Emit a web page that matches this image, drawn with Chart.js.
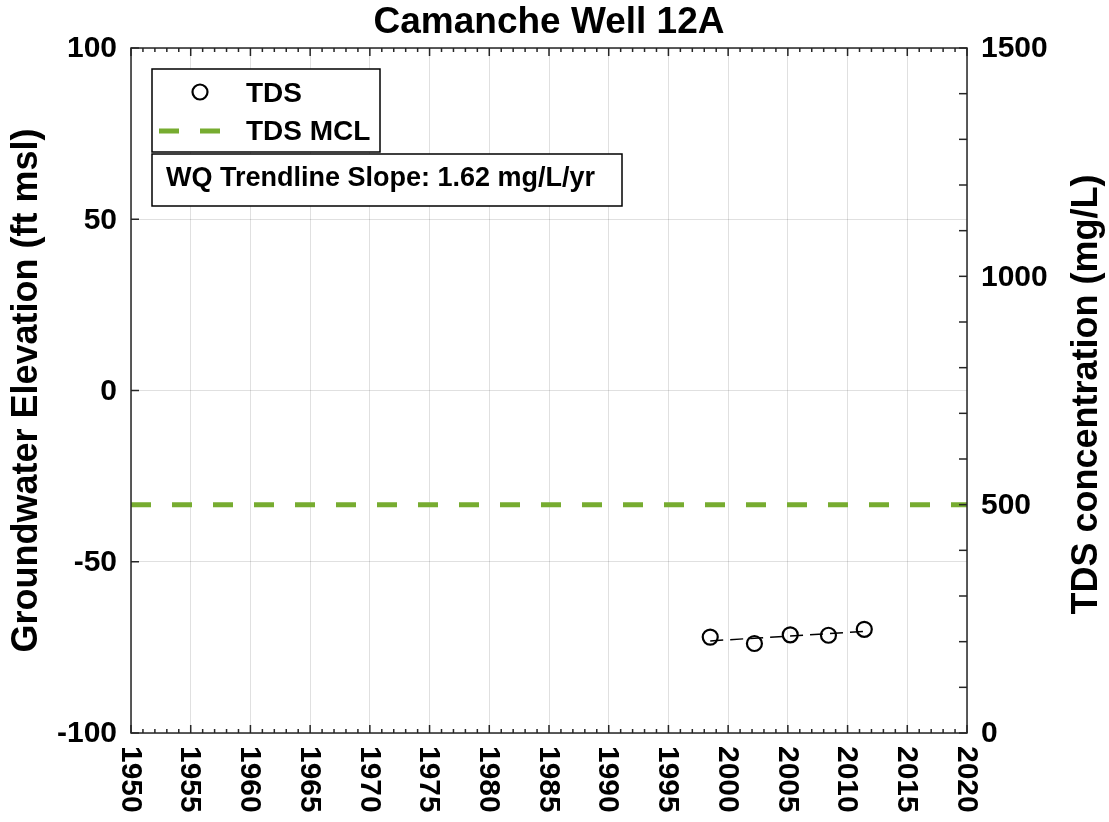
<!DOCTYPE html>
<html>
<head>
<meta charset="utf-8">
<title>Camanche Well 12A</title>
<script src="https://cdn.jsdelivr.net/npm/chart.js@4.4.1/dist/chart.umd.min.js"></script>
<style>
  html, body { margin: 0; padding: 0; background: #fff; }
  #wrap { width: 1109px; height: 822px; }
</style>
</head>
<body>
<div id="wrap"><canvas id="chart" width="1109" height="822"></canvas></div>
<script>
const chartTitle = 'Camanche Well 12A'
const leftAxisTitle = 'Groundwater Elevation (ft msl)'
const rightAxisTitle = 'TDS concentration (mg/L)'

// TDS samples (mg/L)
const sampleYears = [1998.5, 2002.2, 2005.2, 2008.4, 2011.4]
const tdsValues = [210, 196, 215, 214, 227]

const tdsMcl = 500
const trendSlope = 1.62 // mg/L per year
const slopeLabel = `WQ Trendline Slope: ${trendSlope.toFixed(2)} mg/L/yr`

const yearTicks = [1950, 1955, 1960, 1965, 1970, 1975, 1980, 1985, 1990, 1995, 2000, 2005, 2010, 2015, 2020]
const elevationTicks = [-100, -50, 0, 50, 100]
const tdsTicks = [0, 500, 1000, 1500]

const AXIS_COLOR = '#262626'
const GRID_COLOR = 'rgba(0, 0, 0, 0.12)'
const MCL_COLOR = '#77ac30'
const FONT = '"Liberation Sans", Arial, Helvetica, sans-serif'

const font = (size) => `bold ${size}px ${FONT}`

// trendline passes through the sample mean with the reported slope
const meanYear = sampleYears.reduce((a, b) => a + b, 0) / sampleYears.length
const meanTds = tdsValues.reduce((a, b) => a + b, 0) / tdsValues.length
const trendYears = [sampleYears[0], sampleYears[sampleYears.length - 1]]
const trendPoints = trendYears.map((year) => ({ x: year, y: meanTds + trendSlope * (year - meanYear) }))

const mclPoints = [yearTicks[0], yearTicks[yearTicks.length - 1]].map((year) => ({ x: year, y: tdsMcl }))

const frame = {
  id: 'matlabFrame',
  afterDatasetsDraw(chart) {
    const { ctx, chartArea } = chart
    const { left, right, top, bottom } = chartArea
    const xs = chart.scales.x
    const ys = chart.scales.y
    const y2 = chart.scales.y2

    ctx.save()
    ctx.strokeStyle = AXIS_COLOR
    ctx.lineWidth = 1.5

    // year ticks on bottom and top, minor every year
    for (let year = xs.min; year <= xs.max; year += 1) {
      const px = xs.getPixelForValue(year)
      const len = year % 5 === 0 ? 8 : 4
      ctx.beginPath()
      ctx.moveTo(px, bottom)
      ctx.lineTo(px, bottom - len)
      ctx.moveTo(px, top)
      ctx.lineTo(px, top + len)
      ctx.stroke()
    }

    elevationTicks.forEach((value) => {
      const py = ys.getPixelForValue(value)
      ctx.beginPath()
      ctx.moveTo(left, py)
      ctx.lineTo(left + 8, py)
      ctx.stroke()
    })

    for (let value = y2.min; value <= y2.max; value += 100) {
      const py = y2.getPixelForValue(value)
      ctx.beginPath()
      ctx.moveTo(right, py)
      ctx.lineTo(right - 8, py)
      ctx.stroke()
    }

    ctx.strokeRect(left, top, right - left, bottom - top)
    ctx.restore()
  },
  afterDraw(chart) {
    const { ctx, chartArea } = chart
    const { left, right, top, bottom } = chartArea
    const xs = chart.scales.x
    const ys = chart.scales.y
    const y2 = chart.scales.y2

    ctx.save()
    ctx.fillStyle = '#000'

    // title
    ctx.font = font(37)
    ctx.textAlign = 'center'
    ctx.textBaseline = 'alphabetic'
    ctx.fillText(chartTitle, (left + right) / 2, 33)

    // tick labels
    ctx.font = font(30)
    ctx.textBaseline = 'middle'
    ctx.textAlign = 'right'
    elevationTicks.forEach((value) => {
      ctx.fillText(String(value), left - 14, ys.getPixelForValue(value) + 1)
    })
    ctx.textAlign = 'left'
    tdsTicks.forEach((value) => {
      ctx.fillText(String(value), right + 14, y2.getPixelForValue(value) + 1)
    })
    yearTicks.forEach((year) => {
      ctx.save()
      ctx.translate(xs.getPixelForValue(year) - 1, bottom + 13)
      ctx.rotate(Math.PI / 2)
      ctx.textAlign = 'left'
      ctx.fillText(String(year), 0, 0)
      ctx.restore()
    })

    // axis titles, both reading bottom to top
    ctx.font = font(36)
    ctx.textAlign = 'center'
    ctx.textBaseline = 'alphabetic'
    ctx.save()
    ctx.translate(37, (top + bottom) / 2)
    ctx.rotate(-Math.PI / 2)
    ctx.fillText(leftAxisTitle, 0, 0)
    ctx.restore()
    ctx.save()
    ctx.translate(1097, (top + bottom) / 2 + 4)
    ctx.rotate(-Math.PI / 2)
    ctx.fillText(rightAxisTitle, 0, 0)
    ctx.restore()

    // legend box
    const tds = chart.data.datasets[0]
    const mcl = chart.data.datasets[2]
    ctx.lineWidth = 1.5
    ctx.strokeStyle = '#000'
    ctx.fillStyle = '#fff'
    ctx.fillRect(152, 69, 228, 83)
    ctx.strokeRect(152, 69, 228, 83)

    ctx.beginPath()
    ctx.arc(200, 92, tds.pointRadius, 0, Math.PI * 2)
    ctx.lineWidth = tds.pointBorderWidth
    ctx.strokeStyle = tds.borderColor
    ctx.stroke()

    ctx.beginPath()
    ctx.setLineDash(mcl.borderDash)
    ctx.lineWidth = mcl.borderWidth
    ctx.strokeStyle = mcl.borderColor
    ctx.moveTo(159, 131)
    ctx.lineTo(223, 131)
    ctx.stroke()
    ctx.setLineDash([])

    ctx.fillStyle = '#000'
    ctx.font = font(28)
    ctx.textAlign = 'left'
    ctx.textBaseline = 'middle'
    ctx.fillText(tds.label, 246, 94)
    ctx.fillText(mcl.label, 246, 132)

    // slope box
    ctx.lineWidth = 1.5
    ctx.strokeStyle = '#000'
    ctx.fillStyle = '#fff'
    ctx.fillRect(152, 154, 470, 52)
    ctx.strokeRect(152, 154, 470, 52)
    ctx.fillStyle = '#000'
    ctx.font = font(27)
    ctx.fillText(slopeLabel, 166, 179)

    ctx.restore()
  },
}

const chart = new Chart(document.getElementById('chart'), {
  type: 'line',
  data: {
    datasets: [
      {
        label: 'TDS',
        data: sampleYears.map((year, i) => ({ x: year, y: tdsValues[i] })),
        yAxisID: 'y2',
        showLine: false,
        pointStyle: 'circle',
        pointRadius: 7.5,
        pointBorderWidth: 2.2,
        borderColor: '#000',
        backgroundColor: 'rgba(0, 0, 0, 0)',
      },
      {
        label: 'Trendline',
        data: trendPoints,
        yAxisID: 'y2',
        borderColor: '#000',
        borderWidth: 1.5,
        borderDash: [13, 7],
        pointRadius: 0,
        fill: false,
      },
      {
        label: 'TDS MCL',
        data: mclPoints,
        yAxisID: 'y2',
        borderColor: MCL_COLOR,
        borderWidth: 5,
        borderDash: [20, 21],
        borderCapStyle: 'butt',
        pointRadius: 0,
        fill: false,
      },
    ],
  },
  options: {
    responsive: false,
    animation: false,
    devicePixelRatio: 1,
    layout: {
      padding: { left: 131, right: 142, top: 48, bottom: 89 },
    },
    plugins: {
      legend: { display: false },
      title: { display: false },
      tooltip: { enabled: false },
    },
    scales: {
      x: {
        type: 'linear',
        min: 1950,
        max: 2020,
        ticks: { display: false, stepSize: 5 },
        grid: { color: GRID_COLOR, lineWidth: 1, drawTicks: false },
        border: { display: false },
      },
      y: {
        position: 'left',
        min: -100,
        max: 100,
        ticks: { display: false, stepSize: 50 },
        grid: { color: GRID_COLOR, lineWidth: 1, drawTicks: false },
        border: { display: false },
      },
      y2: {
        position: 'right',
        min: 0,
        max: 1500,
        ticks: { display: false, stepSize: 100 },
        grid: { drawOnChartArea: false, drawTicks: false },
        border: { display: false },
      },
    },
  },
  plugins: [frame],
})
</script>
</body>
</html>
